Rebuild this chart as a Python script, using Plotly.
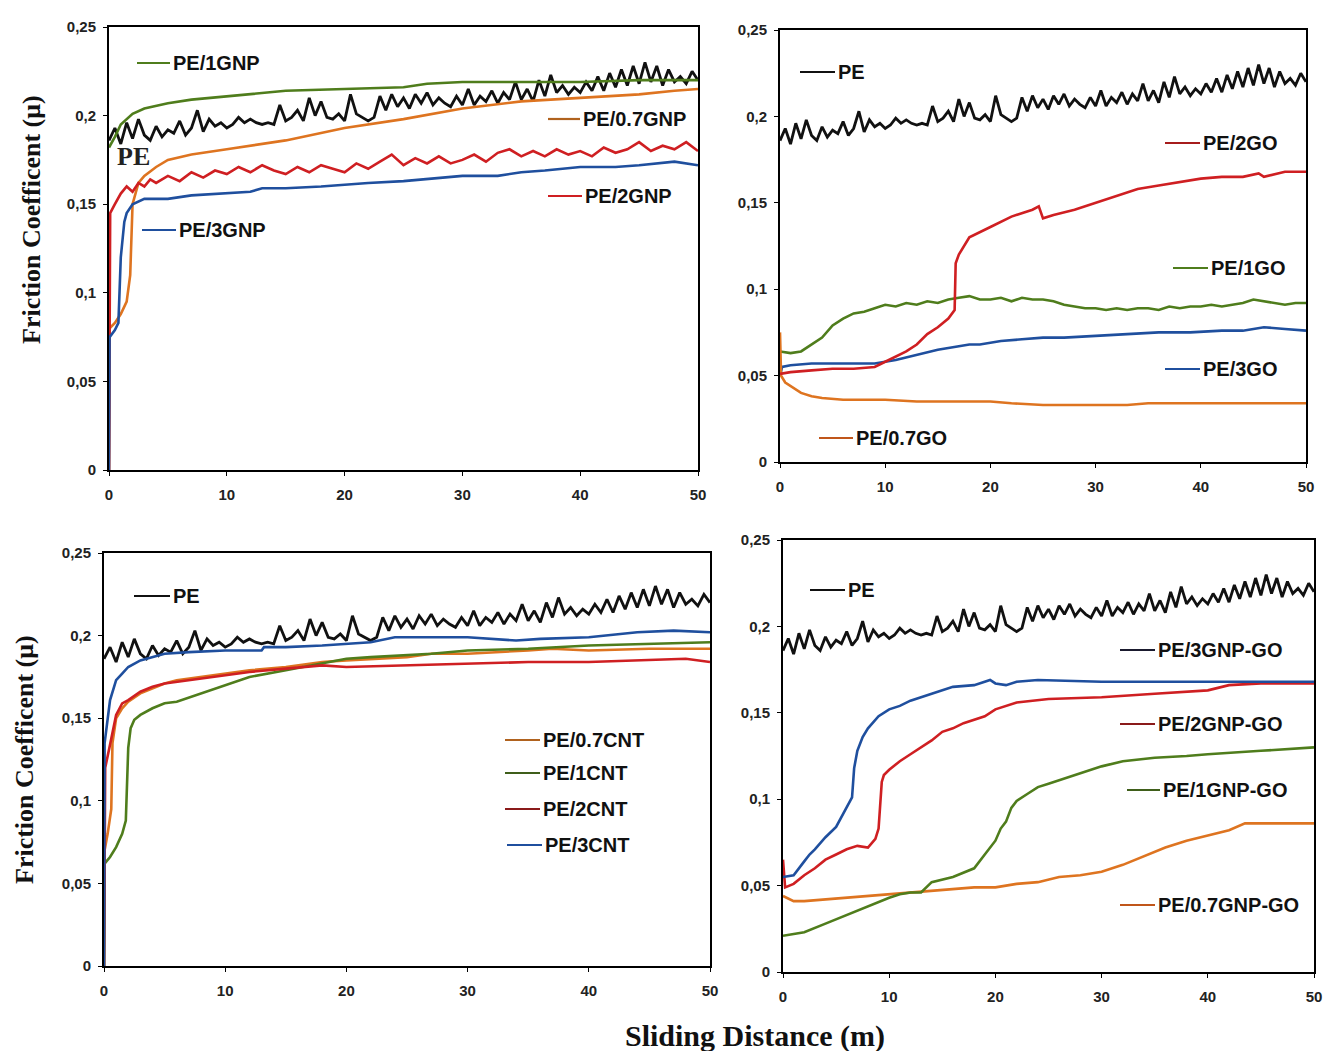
import plotly.graph_objects as go
from plotly.subplots import make_subplots

# ---- shared PE reference curve (same run shown in every panel) ----
PE_X = [0, 0.5, 1, 1.5, 2, 2.5, 3, 3.5, 4, 4.5, 5, 5.5, 6, 6.5, 7, 7.5, 8, 8.5, 9, 9.5,
        10, 10.5, 11, 11.5, 12, 12.5, 13, 13.5, 14, 14.5, 15, 15.5, 16, 16.5, 17, 17.5, 18, 18.5, 19, 19.5,
        20, 20.5, 21, 21.5, 22, 22.5, 23, 23.5, 24, 24.5, 25, 25.5, 26, 26.5, 27, 27.5, 28, 28.5, 29, 29.5,
        30, 30.5, 31, 31.5, 32, 32.5, 33, 33.5, 34, 34.5, 35, 35.5, 36, 36.5, 37, 37.5, 38, 38.5, 39, 39.5,
        40, 40.5, 41, 41.5, 42, 42.5, 43, 43.5, 44, 44.5, 45, 45.5, 46, 46.5, 47, 47.5, 48, 48.5, 49, 49.5, 50]
PE_Y = [0.186, 0.193, 0.184, 0.196, 0.187, 0.198, 0.189, 0.186, 0.194, 0.188, 0.192, 0.190, 0.197, 0.189, 0.193, 0.203, 0.191, 0.198, 0.194, 0.196,
        0.193, 0.195, 0.199, 0.196, 0.198, 0.196, 0.195, 0.196, 0.195, 0.206, 0.197, 0.199, 0.203, 0.197, 0.210, 0.200, 0.208, 0.199, 0.198, 0.201,
        0.197, 0.212, 0.201, 0.199, 0.197, 0.199, 0.211, 0.203, 0.212, 0.205, 0.210, 0.204, 0.212, 0.207, 0.213, 0.206, 0.210, 0.207, 0.205, 0.211,
        0.206, 0.215, 0.206, 0.211, 0.208, 0.214, 0.207, 0.213, 0.209, 0.219, 0.209, 0.215, 0.208, 0.220, 0.211, 0.223, 0.213, 0.217, 0.212, 0.216,
        0.213, 0.219, 0.214, 0.222, 0.214, 0.224, 0.216, 0.226, 0.217, 0.228, 0.218, 0.230, 0.219, 0.228, 0.217, 0.226, 0.219, 0.222, 0.218, 0.225, 0.220]

# ---- panel 1: GNP ----
GNP1_X = [0, 0.5, 1, 1.5, 2, 3, 5, 7, 10, 15, 20, 25, 27, 30, 35, 40, 45, 50]
GNP1_Y = [0.182, 0.188, 0.195, 0.198, 0.201, 0.204, 0.207, 0.209, 0.211, 0.214, 0.215, 0.216, 0.218, 0.219, 0.219, 0.219, 0.220, 0.220]
GNP07_X = [0, 0.05, 0.5, 1.0, 1.5, 1.8, 2.0, 2.5, 3, 4, 5, 7, 10, 15, 20, 25, 30, 35, 40, 45, 48, 50]
GNP07_Y = [0, 0.080, 0.083, 0.088, 0.095, 0.110, 0.150, 0.162, 0.166, 0.171, 0.175, 0.178, 0.181, 0.186, 0.193, 0.198, 0.204, 0.208, 0.210, 0.212, 0.214, 0.215]
GNP2_X = [0, 0.1, 0.5, 1, 1.5, 2, 2.5, 3, 3.5, 4,
          5, 6, 7, 8, 9, 10, 11, 12, 13, 14, 15, 16, 17, 18, 19, 20, 21, 22, 23, 24, 25, 26, 27, 28, 29,
          30, 31, 32, 33, 34, 35, 36, 37, 38, 39, 40, 41, 42, 43, 44, 45, 46, 47, 48, 49, 50]
GNP2_Y = [0, 0.145, 0.150, 0.156, 0.160, 0.157, 0.162, 0.160, 0.164, 0.162,
          0.166, 0.163, 0.168, 0.165, 0.169, 0.167, 0.171, 0.168, 0.172, 0.169, 0.167, 0.171, 0.168, 0.172, 0.170,
          0.168, 0.173, 0.170, 0.174, 0.178, 0.172, 0.176, 0.173, 0.177, 0.173, 0.175, 0.178, 0.174, 0.179, 0.181,
          0.177, 0.180, 0.177, 0.181, 0.178, 0.180, 0.177, 0.182, 0.179, 0.181, 0.185, 0.180, 0.183, 0.181, 0.185, 0.180]
GNP3_X = [0, 0.05, 0.5, 0.8, 1.0, 1.3, 1.5, 2, 3, 5, 7, 10, 12, 13, 15, 18, 20, 22, 25, 28, 30, 33, 35, 37, 40, 43, 45, 48, 50]
GNP3_Y = [0, 0.075, 0.079, 0.083, 0.120, 0.140, 0.145, 0.150, 0.153, 0.153, 0.155, 0.156, 0.157, 0.159, 0.159, 0.160, 0.161, 0.162,
          0.163, 0.165, 0.166, 0.166, 0.168, 0.169, 0.171, 0.171, 0.172, 0.174, 0.172]

# ---- panel 2: GO ----
GO2_X = [0, 1, 3, 5, 7, 9, 10, 11, 12, 13, 14, 15, 16, 16.6, 16.7, 17, 17.5, 18, 20, 22,
         24, 24.6, 25, 26, 28, 30, 32, 34, 36, 38, 40, 42, 44, 45.5, 46, 48, 50]
GO2_Y = [0.051, 0.052, 0.053, 0.054, 0.054, 0.055, 0.058, 0.061, 0.064, 0.068, 0.074, 0.078, 0.083, 0.088, 0.115, 0.120, 0.125, 0.130, 0.136, 0.142,
         0.146, 0.148, 0.141, 0.143, 0.146, 0.150, 0.154, 0.158, 0.160, 0.162, 0.164, 0.165, 0.165, 0.167, 0.165, 0.168, 0.168]
GO1_X = [0, 1, 2, 3, 4, 5, 6, 7, 8, 9, 10, 11, 12, 13, 14, 15, 16, 17, 18, 19, 20, 21, 22, 23, 24, 25,
         26, 27, 28, 29, 30, 31, 32, 33, 34, 35, 36, 37, 38, 39, 40, 41, 42, 43, 44, 45, 46, 47, 48, 49, 50]
GO1_Y = [0.064, 0.063, 0.064, 0.068, 0.072, 0.079, 0.083, 0.086, 0.087, 0.089, 0.091, 0.090, 0.092, 0.091, 0.093, 0.092, 0.094,
         0.095, 0.096, 0.094, 0.094, 0.095, 0.093, 0.095, 0.094, 0.094, 0.093, 0.091, 0.090, 0.089, 0.089, 0.088, 0.089, 0.088,
         0.089, 0.089, 0.088, 0.090, 0.089, 0.090, 0.090, 0.091, 0.090, 0.091, 0.092, 0.094, 0.093, 0.092, 0.091, 0.092, 0.092]
GO3_X = [0, 0.2, 1, 3, 5, 7, 9, 11, 13, 15, 17, 18, 19, 21, 23, 25, 27, 30, 33, 36, 39, 42, 44, 46, 48, 50]
GO3_Y = [0.050, 0.055, 0.056, 0.057, 0.057, 0.057, 0.057, 0.059, 0.062, 0.065, 0.067, 0.068, 0.068, 0.070, 0.071, 0.072, 0.072,
         0.073, 0.074, 0.075, 0.075, 0.076, 0.076, 0.078, 0.077, 0.076]
GO07_X = [0, 0.1, 0.5, 1, 2, 3, 4, 6, 8, 10, 13, 15, 18, 20, 22, 25, 28, 30, 33, 35, 38, 40, 43, 45, 48, 50]
GO07_Y = [0.075, 0.050, 0.046, 0.044, 0.040, 0.038, 0.037, 0.036, 0.036, 0.036, 0.035, 0.035, 0.035, 0.035, 0.034, 0.033, 0.033,
          0.033, 0.033, 0.034, 0.034, 0.034, 0.034, 0.034, 0.034, 0.034]

# ---- panel 3: CNT ----
CNT3_X = [0, 0.05, 0.5, 1, 1.5, 2, 3, 4, 5, 7, 10, 13, 13.2, 15, 18, 22, 24, 27, 30, 34, 36, 40, 44, 47, 50]
CNT3_Y = [0, 0.135, 0.161, 0.173, 0.177, 0.181, 0.185, 0.187, 0.189, 0.190, 0.191, 0.191, 0.193, 0.193, 0.194, 0.196, 0.199,
          0.199, 0.199, 0.197, 0.198, 0.199, 0.202, 0.203, 0.202]
CNT2_X = [0, 0.1, 0.5, 1, 1.5, 2, 3, 4, 5, 6, 8, 10, 12, 15, 18, 20, 25, 28, 30, 35, 40, 45, 48, 50]
CNT2_Y = [0, 0.120, 0.134, 0.152, 0.159, 0.161, 0.166, 0.169, 0.171, 0.172, 0.174, 0.176, 0.178, 0.180, 0.182, 0.181, 0.182,
          0.183, 0.183, 0.184, 0.184, 0.185, 0.186, 0.184]
CNT07_X = [0, 0.05, 0.3, 0.6, 0.7, 1, 1.5, 2, 3, 4, 5, 6, 8, 10, 12, 15, 18, 20, 25, 27, 30, 35, 37, 40, 45, 50]
CNT07_Y = [0, 0.070, 0.080, 0.095, 0.135, 0.150, 0.156, 0.160, 0.165, 0.168, 0.171, 0.173, 0.175, 0.177, 0.179, 0.181, 0.184,
           0.185, 0.187, 0.189, 0.189, 0.191, 0.192, 0.191, 0.192, 0.192]
CNT1_X = [0, 0.05, 0.5, 1, 1.5, 1.8, 2.0, 2.2, 2.5, 3, 4, 5, 6, 8, 10, 12, 15, 18, 20, 22, 25, 27, 30, 35, 40, 45, 50]
CNT1_Y = [0, 0.062, 0.066, 0.072, 0.080, 0.088, 0.132, 0.144, 0.149, 0.152, 0.156, 0.159, 0.160, 0.165, 0.170, 0.175, 0.179,
          0.183, 0.186, 0.187, 0.188, 0.189, 0.191, 0.192, 0.194, 0.195, 0.196]

# ---- panel 4: GNP-GO hybrids ----
GG3_X = [0, 1, 2, 2.5, 3, 4, 5, 6, 6.5, 6.7, 7, 7.5, 8, 9, 10, 11, 12, 14, 16, 18, 19.5, 20, 21, 22, 24, 30, 40, 50]
GG3_Y = [0.055, 0.056, 0.064, 0.068, 0.071, 0.078, 0.084, 0.095, 0.101, 0.118, 0.128, 0.136, 0.141, 0.148, 0.152, 0.154, 0.157,
         0.161, 0.165, 0.166, 0.169, 0.167, 0.166, 0.168, 0.169, 0.168, 0.168, 0.168]
GG2_X = [0, 0.2, 1, 2, 3, 4, 5, 6, 7, 8, 8.7, 9, 9.3, 9.5, 10, 11, 12, 13, 14, 15, 16, 17, 18, 19, 20, 22, 25, 30, 35, 40, 42, 45, 50]
GG2_Y = [0.065, 0.049, 0.051, 0.056, 0.060, 0.065, 0.068, 0.071, 0.073, 0.072, 0.077, 0.083, 0.110, 0.114, 0.117, 0.122, 0.126,
         0.130, 0.134, 0.139, 0.141, 0.144, 0.146, 0.148, 0.152, 0.156, 0.158, 0.159, 0.161, 0.163, 0.166, 0.167, 0.167]
GG1_X = [0, 2, 4, 6, 8, 10, 11, 12, 13, 14, 16, 18, 19, 20, 20.5, 21, 21.5, 22, 23, 24, 25, 26, 28, 30, 32, 35, 38, 40, 45, 50]
GG1_Y = [0.021, 0.023, 0.028, 0.033, 0.038, 0.043, 0.045, 0.046, 0.046, 0.052, 0.055, 0.060, 0.068, 0.076, 0.083, 0.087, 0.095,
         0.099, 0.103, 0.107, 0.109, 0.111, 0.115, 0.119, 0.122, 0.124, 0.125, 0.126, 0.128, 0.130]
GG07_X = [0, 1, 2, 4, 6, 8, 10, 12, 14, 16, 18, 20, 22, 24, 26, 28, 30, 32, 34, 36, 38, 40, 42, 43.5, 50]
GG07_Y = [0.044, 0.041, 0.041, 0.042, 0.043, 0.044, 0.045, 0.046, 0.047, 0.048, 0.049, 0.049, 0.051, 0.052, 0.055, 0.056, 0.058,
          0.062, 0.067, 0.072, 0.076, 0.079, 0.082, 0.086, 0.086]

Y_TICKS = [0, 0.05, 0.1, 0.15, 0.2, 0.25]
Y_TICKTEXT = ["0", "0,05", "0,1", "0,15", "0,2", "0,25"]
X_TICKS = [0, 10, 20, 30, 40, 50]

BLACK = "#111111"
GREEN = "#4f7d1c"
ORANGE = "#de7420"
RED = "#cf1f22"
BLUE = "#1f4f9e"

# the page body adds an 8px margin on every side; size the figure so the page does not overflow
PAD = 8
W, H = 1331 - 2 * PAD, 1059 - 2 * PAD
SANS = "Liberation Sans, Arial, sans-serif"
SERIF = "Liberation Serif, Times New Roman, serif"


def px(x):
    return (x - PAD) / W


def py(y):
    return 1 - (y - PAD) / H


# plot boxes in screenshot pixels (left, right, top, bottom)
BOXES = [(109, 698, 27, 470), (780, 1306, 30, 462), (104, 710, 553, 966), (783, 1314, 540, 972)]

fig = make_subplots(rows=2, cols=2)

panels = [
    (1, 1, [(GNP1_X, GNP1_Y, GREEN), (GNP07_X, GNP07_Y, ORANGE), (GNP2_X, GNP2_Y, RED), (GNP3_X, GNP3_Y, BLUE)]),
    (1, 2, [(GO1_X, GO1_Y, GREEN), (GO3_X, GO3_Y, BLUE), (GO07_X, GO07_Y, ORANGE), (GO2_X, GO2_Y, RED)]),
    (2, 1, [(CNT07_X, CNT07_Y, ORANGE), (CNT1_X, CNT1_Y, GREEN), (CNT2_X, CNT2_Y, RED), (CNT3_X, CNT3_Y, BLUE)]),
    (2, 2, [(GG07_X, GG07_Y, ORANGE), (GG1_X, GG1_Y, GREEN), (GG2_X, GG2_Y, RED), (GG3_X, GG3_Y, BLUE)]),
]
for row, col, series in panels:
    fig.add_trace(go.Scatter(x=PE_X, y=PE_Y, mode="lines", line=dict(color=BLACK, width=2.8), showlegend=False),
                  row=row, col=col)
    for xs, ys, color in series:
        fig.add_trace(go.Scatter(x=xs, y=ys, mode="lines", line=dict(color=color, width=2.6), showlegend=False),
                      row=row, col=col)

for i, (l, r, t, b) in enumerate(BOXES):
    sfx = "" if i == 0 else str(i + 1)
    fig.layout["xaxis" + sfx].update(
        domain=[px(l), px(r)], range=[0, 50], tickvals=X_TICKS, showgrid=False, zeroline=False, automargin=False,
        showline=True, mirror=True, linecolor="black", linewidth=2, ticks="outside", ticklen=4,
        tickcolor="black", tickfont=dict(family=SANS, size=15, color="#222", weight="bold"), ticklabelstandoff=6,
    )
    fig.layout["yaxis" + sfx].update(
        domain=[py(b), py(t)], range=[0, 0.25], tickvals=Y_TICKS, ticktext=Y_TICKTEXT, showgrid=False,
        zeroline=False, automargin=False, showline=True, mirror=True, linecolor="black", linewidth=2,
        ticks="outside", ticklen=4, tickcolor="black",
        tickfont=dict(family=SANS, size=15, color="#222", weight="bold"), ticklabelstandoff=4,
    )

# inline labels: (x0, x1, y, color, text)  screenshot pixel positions
LABELS = [
    (137, 170, 63, GREEN, "PE/1GNP"),
    (548, 580, 119, "#b0621e", "PE/0.7GNP"),
    (548, 582, 196, RED, "PE/2GNP"),
    (142, 176, 230, BLUE, "PE/3GNP"),
    (800, 835, 72, BLACK, "PE"),
    (1165, 1200, 143, "#a61c1c", "PE/2GO"),
    (1173, 1208, 268, GREEN, "PE/1GO"),
    (1165, 1200, 369, BLUE, "PE/3GO"),
    (819, 853, 438, "#c0561a", "PE/0.7GO"),
    (134, 170, 596, BLACK, "PE"),
    (505, 540, 740, "#b0621e", "PE/0.7CNT"),
    (505, 540, 773, "#3f5e1a", "PE/1CNT"),
    (505, 540, 809, "#8a1a1a", "PE/2CNT"),
    (507, 542, 845, BLUE, "PE/3CNT"),
    (810, 845, 590, BLACK, "PE"),
    (1120, 1155, 650, "#1a1a2e", "PE/3GNP-GO"),
    (1120, 1155, 724, "#8a1a1a", "PE/2GNP-GO"),
    (1127, 1160, 790, "#3f5e1a", "PE/1GNP-GO"),
    (1120, 1155, 905, "#c0561a", "PE/0.7GNP-GO"),
]
for x0, x1, y, color, text in LABELS:
    fig.add_shape(type="line", xref="paper", yref="paper", x0=px(x0), x1=px(x1), y0=py(y), y1=py(y),
                  line=dict(color=color, width=2.2))
    fig.add_annotation(x=px(x1 + 1), y=py(y), xref="paper", yref="paper", text=text, showarrow=False,
                       xanchor="left", yanchor="middle",
                       font=dict(family=SANS, size=20, color="#111", weight="bold"))

fig.add_annotation(x=px(115), y=py(156), xref="paper", yref="paper", text="PE", showarrow=False,
                   xanchor="left", yanchor="middle", font=dict(family=SERIF, size=26, color="#222", weight="bold"))

for cx, cy in [(32, 220), (24, 760)]:
    fig.add_annotation(x=px(cx), y=py(cy), xref="paper", yref="paper", text="Friction Coefficent (\u03bc)",
                       textangle=-90, showarrow=False, xanchor="center", yanchor="middle",
                       font=dict(family=SERIF, size=26, color="#111", weight="bold"))

fig.add_annotation(x=px(755), y=py(1036), xref="paper", yref="paper", text="Sliding Distance (m)",
                   showarrow=False, xanchor="center", yanchor="middle",
                   font=dict(family=SERIF, size=30, color="#111", weight="bold"))

fig.update_layout(width=W, height=H, margin=dict(l=0, r=0, t=0, b=0, autoexpand=False), plot_bgcolor="white",
                  paper_bgcolor="white", showlegend=False)

fig.write_html("out.html")
